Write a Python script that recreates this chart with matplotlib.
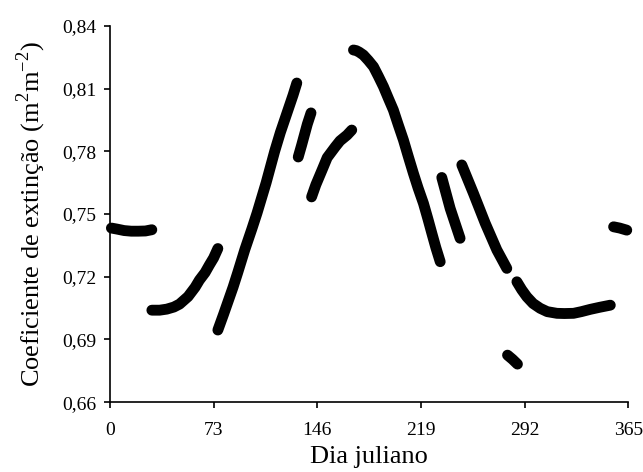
"""Coeficiente de extinção diário ao longo do ano (dia juliano)."""

import matplotlib
matplotlib.use("Agg")
import matplotlib.pyplot as plt
from matplotlib.ticker import FuncFormatter

plt.rcParams["font.family"] = ["Liberation Serif", "DejaVu Serif"]
plt.rcParams["mathtext.fontset"] = "custom"
plt.rcParams["mathtext.rm"] = "Liberation Serif"

# segments of the daily series (day, value)
seg1_day = [1, 5, 10, 15, 20, 25, 29.5]
seg1_val = [0.7433, 0.7428, 0.7421, 0.7418, 0.7418, 0.7419, 0.7425]

seg2_day = [29.5, 35, 40, 45, 49, 55, 60, 63, 67, 70, 73, 76]
seg2_val = [0.7040, 0.7040, 0.7045, 0.7055, 0.7069, 0.7105, 0.7150,
            0.7184, 0.7220, 0.7256, 0.7290, 0.7335]

seg3_day = [76, 80, 86.7, 90, 95, 100, 103.6, 110, 116, 120, 125, 129, 131.6]
seg3_val = [0.6945, 0.7020, 0.7150, 0.7220, 0.7330, 0.7430, 0.7505,
            0.7650, 0.7800, 0.7890, 0.7990, 0.8070, 0.8127]

seg4_day = [132.6, 135, 137, 139, 141.6]
seg4_val = [0.7773, 0.7830, 0.7880, 0.7930, 0.7984]

seg5_day = [142, 145, 149.4, 153, 158.6, 162, 167, 170.3]
seg5_val = [0.7582, 0.7640, 0.7711, 0.7770, 0.7821, 0.7850, 0.7878, 0.7902]

seg6_day = [171.5, 173.5, 175.5, 178.5, 182, 185.6, 189, 192.6, 196,
            199.6, 203, 206.7, 210, 213.7, 217, 220.8, 224, 226.7, 229.5,
            232.6]
seg6_val = [0.8285, 0.8282, 0.8275, 0.8261, 0.8235, 0.8205, 0.8160,
            0.8110, 0.8055, 0.7998, 0.7928, 0.7854, 0.7778, 0.7695,
            0.7625, 0.7551, 0.7475, 0.7408, 0.7340, 0.7272]

seg7_day = [233.7, 239.6, 246.6]
seg7_val = [0.7675, 0.7527, 0.7384]

seg8_day = [247.8, 256, 264.3, 272.5, 279.5]
seg8_val = [0.7735, 0.7599, 0.7456, 0.7328, 0.7240]

seg9_day = [286.6, 290, 293.6, 298, 303, 308, 314.8, 320, 326.5, 332,
            338.3, 345, 352.4]
seg9_val = [0.7176, 0.7138, 0.7104, 0.7072, 0.7049, 0.7033, 0.7025,
            0.7024, 0.7025, 0.7033, 0.7044, 0.7054, 0.7064]

seg10_day = [280, 283.5, 287]
seg10_val = [0.6825, 0.6805, 0.6782]

seg11_day = [354.7, 359, 364]
seg11_val = [0.7439, 0.7433, 0.7423]

segments = [
    (seg1_day, seg1_val), (seg2_day, seg2_val), (seg3_day, seg3_val),
    (seg4_day, seg4_val), (seg5_day, seg5_val), (seg6_day, seg6_val),
    (seg7_day, seg7_val), (seg8_day, seg8_val), (seg9_day, seg9_val),
    (seg10_day, seg10_val), (seg11_day, seg11_val),
]

x_ticks = [0, 73, 146, 219, 292, 365]
y_ticks = [0.66, 0.69, 0.72, 0.75, 0.78, 0.81, 0.84]


def main() -> None:
    fig = plt.figure(figsize=(6.43, 4.72), dpi=100)
    ax = fig.add_axes([0.171, 0.148, 0.806, 0.797])

    # daily dots are dense enough to read as one thick rounded stroke
    for days, vals in segments:
        ax.plot(days, vals, "-", color="black", lw=7.8,
                solid_capstyle="round", solid_joinstyle="round",
                clip_on=False, zorder=3)

    ax.set_xlim(0, 365)
    ax.set_ylim(0.66, 0.84)
    ax.set_xticks(x_ticks)
    ax.set_yticks(y_ticks)
    ax.yaxis.set_major_formatter(
        FuncFormatter(lambda v, _: f"{v:.2f}".replace(".", ",")))

    for side in ("top", "right"):
        ax.spines[side].set_visible(False)
    for side in ("left", "bottom"):
        ax.spines[side].set_linewidth(1.2)
    ax.tick_params(direction="out", length=4, width=1.2, labelsize=14)
    ax.tick_params(axis="x", pad=10)
    ax.tick_params(axis="y", pad=6)

    ax.set_xlabel("Dia juliano", fontsize=19, labelpad=5)
    ax.set_ylabel("Coeficiente de extinção (m$^{2}$m$^{-2}$)", fontsize=19,
                  labelpad=10)

    fig.savefig("out.png", dpi=100)
    plt.close(fig)


if __name__ == "__main__":
    main()
